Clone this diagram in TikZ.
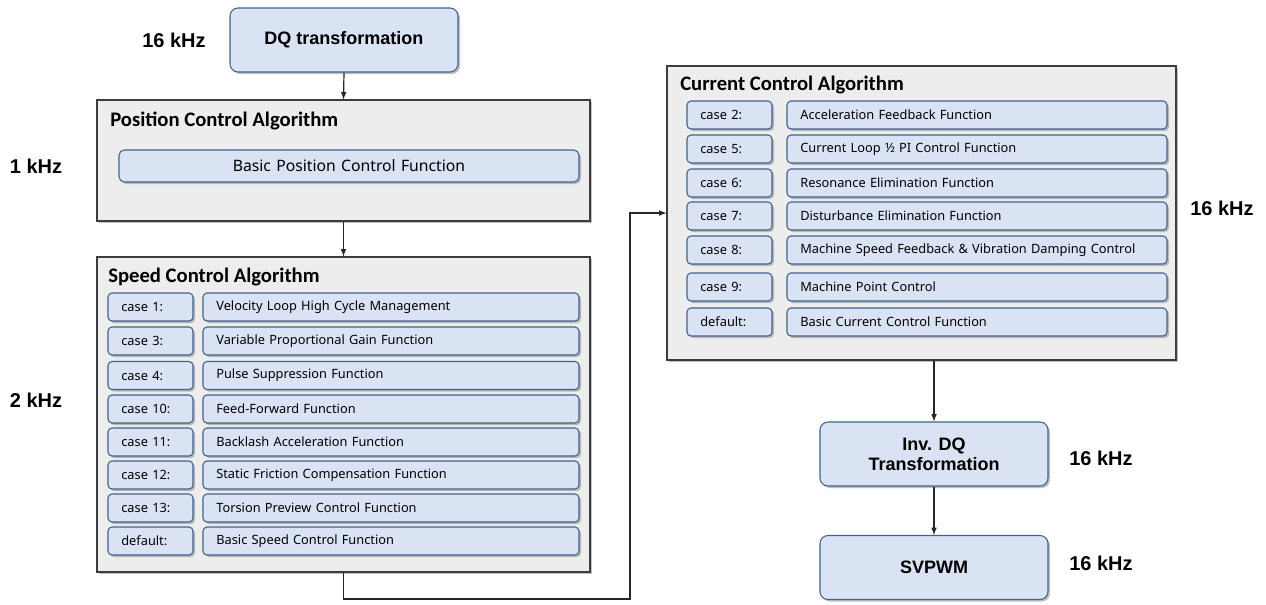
\documentclass[tikz,border=0pt]{standalone}
\usepackage{fontspec}
\setmainfont{Noto Sans}
\newfontfamily\titlefont{Carlito}
\newfontfamily\headfont{Liberation Sans}
\usepackage{tikz}
\usetikzlibrary{arrows,shadows}

\definecolor{boxblue}{HTML}{DAE3F3}
\definecolor{boxline}{HTML}{41618F}
\definecolor{panelgray}{HTML}{EDEDED}
\definecolor{panelline}{HTML}{3C3C3C}

\begin{document}
\begin{tikzpicture}[x=0.75pt,y=-0.75pt,
  shade/.style={drop shadow={shadow xshift=1.5pt,shadow yshift=-1.5pt,fill=black!45,opacity=0.55}},
  block/.style={draw=boxline,fill=boxblue,rounded corners=6pt,line width=0.8pt,shade,
    minimum width=171pt,minimum height=48pt,align=center,
    font=\headfont\bfseries\fontsize{13.5}{15}\selectfont},
  panel/.style={draw=panelline,fill=panelgray,line width=0.8pt,shade,inner sep=0pt},
  ptitle/.style={anchor=west,inner sep=0pt,font=\titlefont\bfseries\fontsize{15.5}{18}\selectfont},
  casebox/.style={draw=boxline,fill=boxblue,rounded corners=3pt,line width=0.8pt,shade,
    minimum height=21pt,inner xsep=10pt,text width=43.75pt,align=left,
    font=\fontsize{9.6}{11}\selectfont},
  fnbox/.style={casebox,text width=#1},
  rate/.style={font=\headfont\bfseries\fontsize{15}{17}\selectfont},
  arr/.style={-latex,line width=0.9pt,black!85}]
  \useasboundingbox (0,0) rectangle (1266,604);

  \node[block] (dq) at (344,40) {DQ transformation};
  \node[rate] (r16a) at (174,40) {16 kHz};

  \node[panel,minimum width=369.75pt,minimum height=90.75pt] (pos) at (343.5,160.5) {};
  \node[ptitle] (post) at (110,121) {Position Control Algorithm};
  \node[casebox,text width=325pt,align=center,font=\fontsize{11.8}{13}\selectfont,minimum height=24pt,rounded corners=4pt] (posf) at (349,166) {Basic Position Control Function};
  \node[rate] (r1) at (36,166) {1 kHz};

  \node[panel,minimum width=369.75pt,minimum height=236.25pt] (spd) at (343.5,414.5) {};
  \node[ptitle] (spdt) at (108,277) {Speed Control Algorithm};
  \node[rate] (r2) at (36,400) {2 kHz};
  \node[casebox] (s1) at (150.5,307) {case 1:};
  \node[fnbox=262pt] (sf1) at (391,307) {Velocity Loop High Cycle Management};
  \node[casebox] (s3) at (150.5,341) {case 3:};
  \node[fnbox=262pt] (sf3) at (391,341) {Variable Proportional Gain Function};
  \node[casebox] (s4) at (150.5,375.5) {case 4:};
  \node[fnbox=262pt] (sf4) at (391,375.5) {Pulse Suppression Function};
  \node[casebox] (s10) at (150.5,409) {case 10:};
  \node[fnbox=262pt] (sf10) at (391,409) {Feed-Forward Function};
  \node[casebox] (s11) at (150.5,442) {case 11:};
  \node[fnbox=262pt] (sf11) at (391,442) {Backlash Acceleration Function};
  \node[casebox] (s12) at (150.5,475) {case 12:};
  \node[fnbox=262pt] (sf12) at (391,475) {Static Friction Compensation Function};
  \node[casebox] (s13) at (150.5,508) {case 13:};
  \node[fnbox=262pt] (sf13) at (391,508) {Torsion Preview Control Function};
  \node[casebox] (sd) at (150.5,541) {default:};
  \node[fnbox=262pt] (sfd) at (391,541) {Basic Speed Control Function};

  \node[panel,minimum width=381.75pt,minimum height=220.5pt] (cur) at (921.5,213) {};
  \node[ptitle] (curt) at (680,85) {Current Control Algorithm};
  \node[rate] (r16b) at (1222,208) {16 kHz};
  \node[casebox] (c2) at (729.5,115) {case 2:};
  \node[fnbox=265pt] (cf2) at (977,115) {Acceleration Feedback Function};
  \node[casebox] (c5) at (729.5,149) {case 5:};
  \node[fnbox=265pt] (cf5) at (977,149) {Current Loop ½ PI Control Function};
  \node[casebox] (c6) at (729.5,183) {case 6:};
  \node[fnbox=265pt] (cf6) at (977,183) {Resonance Elimination Function};
  \node[casebox] (c7) at (729.5,216) {case 7:};
  \node[fnbox=265pt] (cf7) at (977,216) {Disturbance Elimination Function};
  \node[casebox] (c8) at (729.5,250) {case 8:};
  \node[fnbox=265pt] (cf8) at (977,250) {Machine Speed Feedback \& Vibration Damping Control};
  \node[casebox] (c9) at (729.5,287) {case 9:};
  \node[fnbox=265pt] (cf9) at (977,287) {Machine Point Control};
  \node[casebox] (cd) at (729.5,322) {default:};
  \node[fnbox=265pt] (cfd) at (977,322) {Basic Current Control Function};

  \node[block] (idq) at (934,454) {Inv. DQ\\Transformation};
  \node[rate] (r16c) at (1101,458) {16 kHz};
  \node[block] (svp) at (934,567.5) {SVPWM};
  \node[rate] (r16d) at (1101,563) {16 kHz};

  \coordinate (bend) at (630,599);

  \draw[arr] (dq.south) -- (pos.north);
  \draw[arr] (pos.south) -- (spd.north);
  \draw[arr] (spd.south) |- (bend) |- (cur.west);
  \draw[arr] (cur.south -| idq.north) -- (idq.north);
  \draw[arr] (idq.south) -- (svp.north);
\end{tikzpicture}
\end{document}
